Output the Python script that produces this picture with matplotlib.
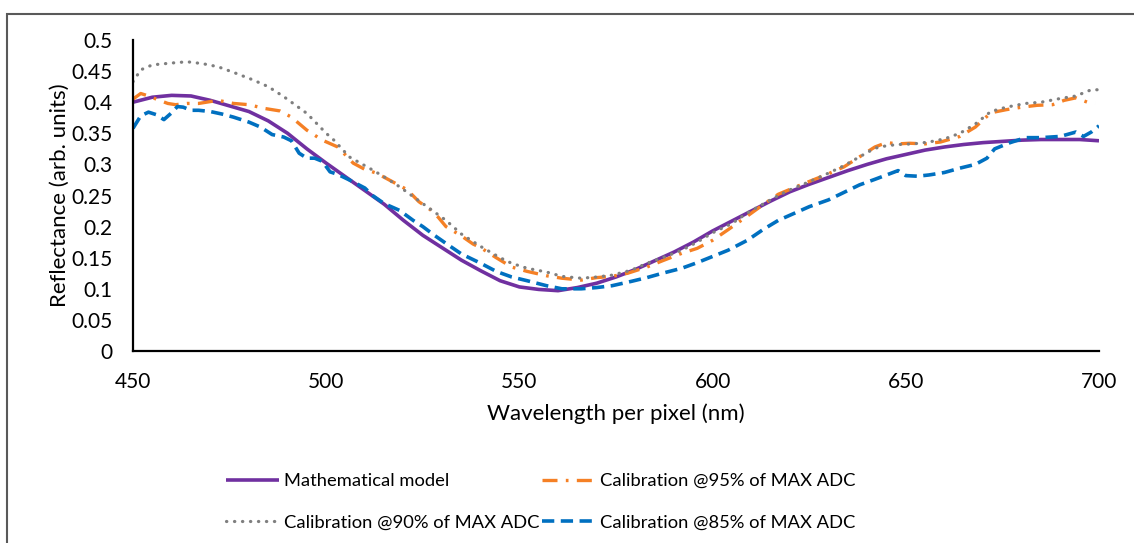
import matplotlib
matplotlib.use("Agg")
import matplotlib.pyplot as plt
from matplotlib.patches import Rectangle

# ---- data ----
wl_model = [450, 455, 460, 465, 470, 475, 480, 485, 490, 495, 500, 505, 510, 515, 520,
            525, 530, 535, 540, 545, 550, 555, 560, 565, 570, 575, 580, 585, 590, 595,
            600, 605, 610, 615, 620, 625, 630, 635, 640, 645, 650, 655, 660, 665, 670,
            675, 680, 685, 690, 695, 700]
r_model = [0.400, 0.408, 0.411, 0.410, 0.403, 0.394, 0.385, 0.370, 0.350, 0.325, 0.302,
           0.280, 0.258, 0.236, 0.210, 0.186, 0.166, 0.146, 0.129, 0.113, 0.103, 0.099,
           0.097, 0.102, 0.109, 0.119, 0.131, 0.145, 0.159, 0.175, 0.193, 0.209, 0.225,
           0.241, 0.256, 0.268, 0.279, 0.290, 0.300, 0.309, 0.316, 0.323, 0.328, 0.332,
           0.335, 0.337, 0.339, 0.340, 0.340, 0.340, 0.338]

wl_90 = [450, 452, 455, 460, 464, 468, 472, 476, 481, 485, 489, 495, 500, 502, 506, 512,
         515, 519, 523, 527, 531, 535, 540, 545, 548, 552, 557, 561, 566, 570, 574, 579,
         583, 587, 592, 596, 600, 605, 609, 613, 617, 621, 625, 630, 634, 638, 642, 645,
         648, 652, 656, 660, 664, 668, 672, 676, 681, 685, 690, 694, 698, 700]
r_90 = [0.433, 0.452, 0.460, 0.463, 0.465, 0.462, 0.457, 0.448, 0.436, 0.425, 0.409,
        0.382, 0.350, 0.339, 0.312, 0.291, 0.280, 0.264, 0.246, 0.228, 0.210, 0.188,
        0.168, 0.150, 0.141, 0.133, 0.127, 0.120, 0.117, 0.119, 0.122, 0.130, 0.141,
        0.150, 0.162, 0.175, 0.190, 0.205, 0.222, 0.236, 0.250, 0.262, 0.272, 0.286,
        0.298, 0.312, 0.326, 0.330, 0.332, 0.333, 0.336, 0.341, 0.350, 0.365, 0.385,
        0.392, 0.398, 0.400, 0.406, 0.410, 0.420, 0.420]

wl_95 = [450, 452, 454, 456, 459, 461, 464, 467, 470, 472, 476, 480, 484, 488, 491, 495,
         499, 503, 507, 510, 513, 516, 519, 521, 524, 527, 529, 531, 535, 538, 540, 544,
         548, 552, 557, 561, 566, 570, 574, 578, 583, 587, 592, 596, 600, 604, 609, 613,
         617, 622, 626, 630, 634, 638, 642, 645, 648, 651, 655, 659, 664, 668, 672, 676,
         680, 684, 688, 691, 694, 697, 699]
r_95 = [0.405, 0.414, 0.410, 0.405, 0.398, 0.396, 0.398, 0.398, 0.401, 0.403, 0.398,
        0.396, 0.390, 0.386, 0.376, 0.355, 0.339, 0.328, 0.302, 0.292, 0.286, 0.276,
        0.266, 0.259, 0.240, 0.227, 0.215, 0.200, 0.185, 0.172, 0.166, 0.150, 0.135,
        0.128, 0.121, 0.117, 0.114, 0.118, 0.120, 0.125, 0.135, 0.145, 0.157, 0.165,
        0.178, 0.195, 0.217, 0.235, 0.252, 0.265, 0.275, 0.285, 0.296, 0.312, 0.328,
        0.335, 0.333, 0.334, 0.333, 0.336, 0.345, 0.360, 0.383, 0.388, 0.392, 0.395,
        0.396, 0.403, 0.407, 0.400, 0.398]

wl_85 = [450, 452, 454, 456, 458, 460, 461.5, 463, 465, 467, 470, 473, 476, 480, 483, 486,
         489, 491, 493, 495, 497, 499, 501, 503, 506, 510, 512, 515, 519, 522.5, 525, 528,
         531, 535, 540, 544, 548, 552, 557, 561, 566, 570, 574, 579, 583, 587, 592, 596,
         600, 604, 609, 613, 617, 621, 625, 630, 634, 638, 642, 645, 648, 650, 653, 656,
         660, 664, 668, 671, 673, 677, 681, 685, 690, 694, 696, 698, 700]
r_85 = [0.358, 0.378, 0.384, 0.380, 0.372, 0.383, 0.393, 0.392, 0.387, 0.387, 0.385,
        0.381, 0.376, 0.368, 0.360, 0.348, 0.344, 0.338, 0.318, 0.310, 0.310, 0.305,
        0.288, 0.284, 0.275, 0.262, 0.250, 0.237, 0.226, 0.210, 0.200, 0.186, 0.173,
        0.156, 0.141, 0.128, 0.119, 0.113, 0.105, 0.100, 0.100, 0.102, 0.105, 0.112,
        0.118, 0.125, 0.133, 0.142, 0.152, 0.162, 0.178, 0.195, 0.210, 0.221, 0.232,
        0.243, 0.255, 0.267, 0.276, 0.283, 0.290, 0.282, 0.281, 0.283, 0.287, 0.294,
        0.300, 0.310, 0.325, 0.335, 0.343, 0.343, 0.345, 0.352, 0.345, 0.352, 0.362]

labels = ["Mathematical model", "Calibration @95% of MAX ADC",
          "Calibration @90% of MAX ADC", "Calibration @85% of MAX ADC"]
yticks = [0, 0.05, 0.1, 0.15, 0.2, 0.25, 0.3, 0.35, 0.4, 0.45, 0.5]
ytick_labels = ["0", "0.05", "0.1", "0.15", "0.2", "0.25", "0.3", "0.35", "0.4", "0.45", "0.5"]
xticks = [450, 500, 550, 600, 650, 700]

plt.rcParams['font.family'] = ['Lato', 'DejaVu Sans']

fig = plt.figure(figsize=(11.34, 5.43), dpi=100)
fig.patches.append(Rectangle((7 / 1134, -0.1), 1.2, 1 - 14 / 543 + 0.1,
                             transform=fig.transFigure, fill=False,
                             edgecolor='#595959', linewidth=1.5))

ax = fig.add_axes([133 / 1134, 1 - 351 / 543, (1099 - 133) / 1134, (351 - 40) / 543])

l_model, = ax.plot(wl_model, r_model, color='#7030A0', lw=2.6, solid_capstyle='butt')
l95, = ax.plot(wl_95, r_95, color='#F58025', lw=2.4,
               linestyle=(0, (4.5, 2.5, 0.8, 2.5)))
l90, = ax.plot(wl_90, r_90, color='#7F7F7F', lw=2.3,
               linestyle=(0, (0.1, 2.4)), dash_capstyle='round')
l85, = ax.plot(wl_85, r_85, color='#0070C0', lw=2.6,
               linestyle=(0, (3.4, 1.8)))

ax.set_xlim(450, 700)
ax.set_ylim(0, 0.5)
ax.set_xticks(xticks)
ax.set_yticks(yticks)
ax.set_yticklabels(ytick_labels)
ax.tick_params(length=0, labelsize=15, colors='#000000')
ax.tick_params(axis='x', pad=15)
ax.tick_params(axis='y', pad=15)
for s in ['top', 'right']:
    ax.spines[s].set_visible(False)
for s in ['left', 'bottom']:
    ax.spines[s].set_linewidth(1.6)
    ax.spines[s].set_color('#000000')

ax.set_xlabel("Wavelength per pixel (nm)", fontsize=16, labelpad=8)
ax.set_ylabel("Reflectance (arb. units)", fontsize=16, labelpad=1)

fig.legend([l_model, l90, l95, l85], [labels[0], labels[2], labels[1], labels[3]],
           loc='upper left',
           bbox_to_anchor=(226 / 1134, 1 - 473 / 543), ncol=2, frameon=False,
           fontsize=13.2, handlelength=2.9, handletextpad=0.25, columnspacing=0.15,
           labelspacing=1.4, borderaxespad=0, borderpad=0)

fig.savefig("out.png", dpi=100)
